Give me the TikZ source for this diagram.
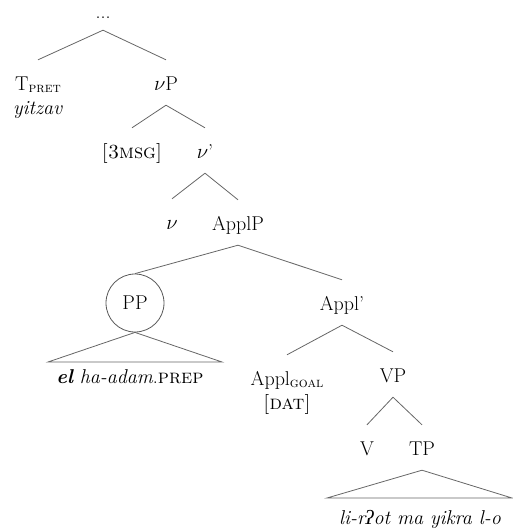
\documentclass[tikz,border=0pt]{standalone}
\usepackage{fontspec}
\newfontfamily\ipafont{Liberation Serif}
\usetikzlibrary{positioning, calc}

\begin{document}
\begin{tikzpicture}[x=1pt, y=-1pt,
    lbl/.style={font=\fontsize{20}{24}\selectfont, anchor=base, inner sep=0pt,
                text height=30pt, text depth=15pt},
    ring/.style={draw=black!65, line width=0.8pt, circle, minimum size=58pt,
                 inner sep=0pt, font=\fontsize{20}{24}\selectfont},
    branch/.style={draw=black!60, line width=0.8pt}]

    \useasboundingbox (0,0) rectangle (513,531);

    % Top of the tree
    \node[lbl, text height=10pt, text depth=12pt] (top) at (103,18) {...};
    \node[lbl] (T) at (38,90)
        {\begin{tabular}[t]{@{}c@{}}
            T\raisebox{-0.3ex}{\fontsize{14}{14}\selectfont\textsc{pret}}\\
            \textit{yitzav}
         \end{tabular}};
    \node[lbl] (vP) at (166,90) {$\nu$P};
    \draw[branch] (top.south) -- (T.north);
    \draw[branch] (top.south) -- (vP.north);

    % vP: feature bundle and v'
    \node[lbl] (feat) at (132,158) {\textsc{[3msg]}};
    \node[lbl] (vbar) at (205,158) {$\nu$’};
    \draw[branch] (vP.south) -- (feat.north);
    \draw[branch] (vP.south) -- (vbar.north);

    % v' splits into v and ApplP
    \node[lbl] (v) at (172,229) {$\nu$};
    \node[lbl] (ApplP) at (238,230) {ApplP};
    \draw[branch] (vbar.south) -- (v.north);
    \draw[branch] (vbar.south) -- (ApplP.north);

    % Circled PP with its triangle
    \node[ring] (PP) at (135,303) {PP};
    \node[lbl] (Applbar) at (342,310) {Appl’};
    \draw[branch] (ApplP.south) -- (PP.north);
    \draw[branch] (ApplP.south) -- (Applbar.north);
    \coordinate (PPl) at (48,362);
    \coordinate (PPr) at (222,362);
    \draw[branch] (PP.south) -- (PPl) -- (PPr) -- cycle;
    \node[lbl] (PPtext) at (130,383)
        {\textbf{\textit{el}} \textit{ha-adam}.\textsc{prep}};

    % Appl' splits into the applicative head and VP
    \node[lbl] (Appl) at (287,385)
        {\begin{tabular}[t]{@{}c@{}}
            Appl\raisebox{-0.3ex}{\fontsize{14}{14}\selectfont\textsc{goal}}\\
            \textsc{[dat]}
         \end{tabular}};
    \node[lbl] (VP) at (393,382) {VP};
    \draw[branch] (Applbar.south) -- (Appl.north);
    \draw[branch] (Applbar.south) -- (VP.north);

    % VP splits into V and TP
    \node[lbl] (V) at (367,455) {V};
    \node[lbl] (TP) at (422,455) {TP};
    \draw[branch] (VP.south) -- (V.north);
    \draw[branch] (VP.south) -- (TP.north);

    % TP triangle
    \coordinate (TPl) at (327,498);
    \coordinate (TPr) at (512,498);
    \draw[branch] (TP.south) -- (TPl) -- (TPr) -- cycle;
    \node[lbl] (TPtext) at (420,524)
        {\textit{li-r{\ipafont\itshape ʔ}ot ma yikra l-o}};

\end{tikzpicture}
\end{document}
